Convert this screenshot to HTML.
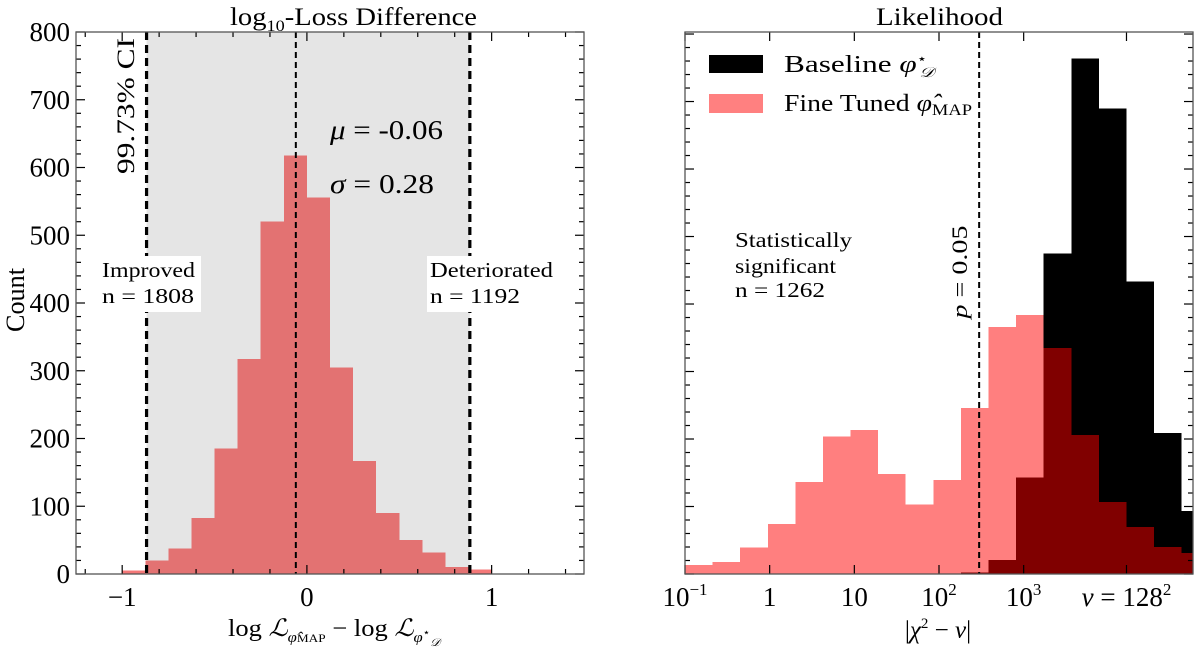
<!DOCTYPE html>
<html><head><meta charset="utf-8"><style>
html,body{margin:0;padding:0;background:#fff;}
svg{display:block;font-family:"Liberation Serif",serif;}
</style></head><body>
<svg id="chart" width="1195" height="647" viewBox="0 0 1195 647" xmlns="http://www.w3.org/2000/svg"></svg>
<script>
// ---- Left panel data ----
const lossBinStart = -1.0;
const lossBinWidth = 0.125;
const lossCounts = [5, 20, 38, 83, 185, 317, 520, 618, 556, 305, 167, 90, 50, 32, 10, 7];
const lossCiLow = -0.868;
const lossCiHigh = 0.882;
const lossMean = -0.06;
const lossXTicks = [-1, 0, 1];
const lossXTickLabels = ["\u22121", "0", "1"];
const lossYTicks = [0, 100, 200, 300, 400, 500, 600, 700, 800];
// ---- Right panel data (log10 bins) ----
const chiBinStartLog = -1.0;
const chiBinWidthLog = 0.3259;
const chiFineCounts = [13, 18, 39, 74, 136, 204, 213, 148, 103, 139, 246, 366, 384, 335, 206, 107, 70, 40, 31];
const chiBaseCounts = [0, 0, 0, 0, 0, 0, 0, 0, 0, 0, 2, 21, 143, 475, 764, 690, 433, 209, 93];
const chiPLine = 298;
const chiXTicks = [0.1, 1, 10, 100, 1000, 16384];
const chiXTickLabels = ["10^-1", "1", "10", "10^2", "10^3", "nu"];

const NS = "http://www.w3.org/2000/svg";
const svg = document.getElementById("chart");
function el(tag, attrs, parent) {
  const e = document.createElementNS(NS, tag);
  for (const k in attrs) e.setAttribute(k, attrs[k]);
  (parent || svg).appendChild(e);
  return e;
}
function txt(parent, name, x, y, size, html, extra, len) {
  const t = el("text", Object.assign({x: x, y: y, "font-size": size}, extra || {}), parent);
  t.innerHTML = html;
  if (len) { t.setAttribute("textLength", len); t.setAttribute("lengthAdjust", "spacingAndGlyphs"); }
  
  
  return t;
}
const TOP = 32, BOT = 574;
const L0 = 76, L1 = 584, LXMIN = -1.25, LXMAX = 1.5;
const lx = v => L0 + (v - LXMIN) / (LXMAX - LXMIN) * (L1 - L0);
const ly = v => BOT - v / 800 * (BOT - TOP);
const R0 = 685, R1 = 1193, RLMIN = -1, RLMAX = 5, RYMAX = 803;
const rxl = lg => R0 + (lg - RLMIN) / (RLMAX - RLMIN) * (R1 - R0);
const rx = v => rxl(Math.log10(v));
const ry = v => BOT - v / RYMAX * (BOT - TOP);

// ===== LEFT =====
const gL = el("g", {});


const ci = el("rect", {x: lx(lossCiLow), y: TOP, width: lx(lossCiHigh) - lx(lossCiLow), height: BOT - TOP, fill: "#e5e5e5"}, gL);


lossCounts.forEach((c, i) => {
  const a = lossBinStart + i * lossBinWidth;
  const inside = a >= lossCiLow - 0.01 && a + lossBinWidth <= lossCiHigh + 0.01;
  const r = el("rect", {x: lx(a), y: ly(c), width: lx(a + lossBinWidth) - lx(a), height: BOT - ly(c), fill: inside ? "#e37272" : "#f47878", "shape-rendering": "crispEdges"}, gL);
  
  
});
[[lossCiLow, 3.2, "8,5"], [lossCiHigh, 3.2, "8,5"], [lossMean, 2, "6,4"]].forEach(([v, w, d]) => {
  const l = el("line", {x1: lx(v), x2: lx(v), y1: TOP, y2: BOT, stroke: "#000", "stroke-width": w, "stroke-dasharray": d}, gL);
  
  
});
for (let v = -1.2; v <= 1.41; v += 0.2) {
  const x = lx(v);
  const major = lossXTicks.some(t => Math.abs(t - v) < 1e-6);
  const len = major ? 9 : 5;
  el("line", {x1: x, x2: x, y1: BOT, y2: BOT - len, stroke: "#000", "stroke-width": 1.2}, gL);
  el("line", {x1: x, x2: x, y1: TOP, y2: TOP + len, stroke: "#000", "stroke-width": 1.2}, gL);
}
for (let v = 0; v <= 800; v += 20) {
  const y = ly(v);
  const len = v % 100 === 0 ? 9 : 5;
  el("line", {x1: L0, x2: L0 + len, y1: y, y2: y, stroke: "#000", "stroke-width": 1.2}, gL);
  el("line", {x1: L1, x2: L1 - len, y1: y, y2: y, stroke: "#000", "stroke-width": 1.2}, gL);
}
lossXTicks.forEach((v, i) => {
  txt(gL, "x-tick-label", lx(v), 606, 27, lossXTickLabels[i], {"text-anchor": "middle"});
});
lossYTicks.forEach(v => {
  txt(gL, "y-tick-label", 70, ly(v) + 9, 27, String(v), {"text-anchor": "end"});
});
const frL = el("rect", {x: L0, y: TOP, width: L1 - L0, height: BOT - TOP, fill: "none", stroke: "#555", "stroke-width": 1.3}, gL);



txt(gL, "left-title", 230, 25, 25, 'log<tspan font-size="16" dy="6">10</tspan><tspan dy="-6">-Loss Difference</tspan>', {}, 247);
txt(gL, "y-axis-title", 0, 0, 26, 'Count', {transform: "translate(24,300) rotate(-90)", "text-anchor": "middle"}, 64);
txt(gL, "ci-label", 0, 0, 25, '99.73% CI', {transform: "translate(134,106) rotate(-90)", "text-anchor": "middle"}, 136);
txt(gL, "mu-label", 330, 139, 27, '<tspan font-style="italic">μ</tspan> = -0.06', {}, 113);
txt(gL, "sigma-label", 330, 193, 27, '<tspan font-style="italic">σ</tspan> = 0.28', {}, 104);
const b1 = el("rect", {x: 99, y: 256, width: 102, height: 56, fill: "#fff"}, gL);


txt(gL, "improved-label", 102, 277, 21, 'Improved', {}, 93);
txt(gL, "improved-count", 102, 303, 21, 'n = 1808', {}, 92);
const b2 = el("rect", {x: 427, y: 256, width: 128, height: 56, fill: "#fff"}, gL);


txt(gL, "deteriorated-label", 430, 277, 21, 'Deteriorated', {}, 123);
txt(gL, "deteriorated-count", 430, 303, 21, 'n = 1192', {}, 90);
txt(gL, "x-axis-title", 228, 636, 24, 'log <tspan font-style="italic">ℒ</tspan><tspan font-size="15" dy="6" font-style="italic">φ̂</tspan><tspan font-size="12">MAP</tspan><tspan dy="-6"> − log </tspan><tspan font-style="italic">ℒ</tspan><tspan font-size="15" dy="6" font-style="italic">φ</tspan><tspan font-size="11" dy="-6">⋆</tspan><tspan font-size="11" dy="10" font-style="italic">𝒟</tspan>', {}, 212);

// ===== RIGHT =====
const gR = el("g", {});


const clip = el("clipPath", {id: "rclip"}, gR);
el("rect", {x: R0, y: TOP, width: R1 - R0, height: BOT - TOP}, clip);
const bars = el("g", {"clip-path": "url(#rclip)"}, gR);
chiBaseCounts.forEach((c, i) => {
  if (c <= 0) return;
  const a = chiBinStartLog + i * chiBinWidthLog;
  const r = el("rect", {x: rxl(a), y: ry(c), width: rxl(a + chiBinWidthLog) - rxl(a), height: BOT - ry(c), fill: "#000", "shape-rendering": "crispEdges"}, bars);
  
  
});
chiFineCounts.forEach((c, i) => {
  const a = chiBinStartLog + i * chiBinWidthLog;
  const r = el("rect", {x: rxl(a), y: ry(c), width: rxl(a + chiBinWidthLog) - rxl(a), height: BOT - ry(c), fill: "#ff0000", "fill-opacity": 0.5, "shape-rendering": "crispEdges"}, bars);
  
  
});
const pl = el("line", {x1: rx(chiPLine), x2: rx(chiPLine), y1: TOP, y2: BOT, stroke: "#000", "stroke-width": 2, "stroke-dasharray": "6,4"}, gR);


chiXTicks.forEach(v => {
  const x = rx(v);
  el("line", {x1: x, x2: x, y1: BOT, y2: BOT - 9, stroke: "#000", "stroke-width": 1.2}, gR);
  el("line", {x1: x, x2: x, y1: TOP, y2: TOP + 9, stroke: "#000", "stroke-width": 1.2}, gR);
});
for (let v = 0; v <= 800; v += 20) {
  const y = ry(v);
  const len = v % 100 === 0 ? 9 : 5;
  el("line", {x1: R0, x2: R0 + len, y1: y, y2: y, stroke: "#000", "stroke-width": 1.2}, gR);
  el("line", {x1: R1, x2: R1 - len, y1: y, y2: y, stroke: "#000", "stroke-width": 1.2}, gR);
}
chiXTicks.forEach((v, i) => {
  const lab = chiXTickLabels[i];
  let html;
  if (lab.startsWith("10^")) html = '10<tspan font-size="17" dy="-11">' + lab.slice(3).replace("-", "−") + '</tspan>';
  else if (lab === "nu") html = '<tspan font-style="italic">ν</tspan> = 128<tspan font-size="17" dy="-11">2</tspan>';
  else html = lab;
  txt(gR, "x-tick-label", rx(v), 606, 27, html, {"text-anchor": "middle"});
});
const frR = el("rect", {x: R0, y: TOP, width: R1 - R0, height: BOT - TOP, fill: "none", stroke: "#555", "stroke-width": 1.3}, gR);


txt(gR, "right-title", 876, 25, 25, 'Likelihood', {}, 127);
txt(gR, "x-axis-title-right", 938, 638, 25, '|<tspan font-style="italic">χ</tspan><tspan font-size="15" dy="-10">2</tspan><tspan dy="10"> − </tspan><tspan font-style="italic">ν</tspan>|', {"text-anchor": "middle"});
const lg1 = el("rect", {x: 709, y: 55, width: 54, height: 18, fill: "#000"}, gR);


const lg2 = el("rect", {x: 709, y: 94, width: 54, height: 19, fill: "#ff8080"}, gR);


txt(gR, "legend-entry-baseline", 784, 72, 24, 'Baseline <tspan font-style="italic">φ</tspan><tspan font-size="13" dy="-9">⋆</tspan><tspan font-size="14" dx="-6" dy="14" font-style="italic">𝒟</tspan>', {}, 150);
txt(gR, "legend-entry-fine-tuned", 784, 111, 24, 'Fine Tuned <tspan font-style="italic">φ̂</tspan><tspan font-size="16" dy="4">MAP</tspan>', {}, 188);
txt(gR, "significant-label", 735, 247, 21, 'Statistically', {}, 117);
txt(gR, "significant-label-2", 735, 273, 21, 'significant', {}, 101);
txt(gR, "significant-count", 735, 297, 21, 'n = 1262', {}, 90);
txt(gR, "p-value-label", 0, 0, 22, '<tspan font-style="italic">p</tspan> = 0.05', {transform: "translate(967,272) rotate(-90)", "text-anchor": "middle"}, 93);
</script>
</body></html>
